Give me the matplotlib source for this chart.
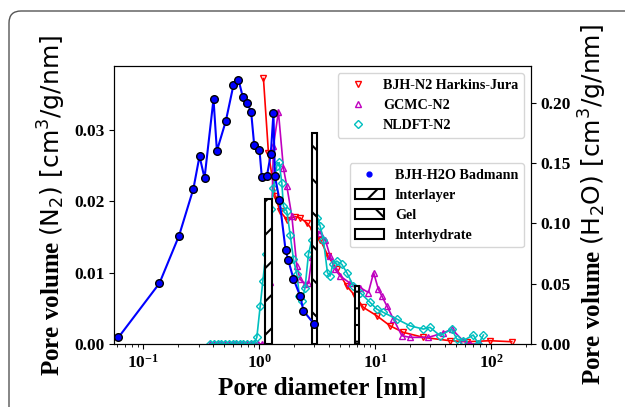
import matplotlib
matplotlib.use("Agg")
import matplotlib.pyplot as plt
from matplotlib.lines import Line2D
from matplotlib.patches import Patch, FancyBboxPatch
from matplotlib.transforms import IdentityTransform

# ---------------- data ----------------
# BJH-H2O Badmann (right axis)
h2o_d = [0.0612, 0.138, 0.204, 0.271, 0.306, 0.338, 0.404, 0.432, 0.516, 0.600,
         0.663, 0.723, 0.788, 0.853, 0.906, 1.006, 1.055, 1.165, 1.261, 1.328,
         1.366, 1.496, 1.691, 1.786, 1.977, 2.256, 2.41, 2.98]
h2o_v = [0.0055, 0.0503, 0.0899, 0.1287, 0.1557, 0.1375, 0.2030, 0.1601, 0.1848, 0.2145,
         0.2192, 0.2046, 0.1999, 0.1922, 0.1650, 0.1609, 0.1380, 0.1389, 0.1576, 0.1917,
         0.1394, 0.1196, 0.0776, 0.0693, 0.0539, 0.0399, 0.0275, 0.0165]

# BJH-N2 Harkins-Jura (left axis)
bjh_d = [1.089, 1.203, 1.374, 1.517, 1.733, 2.042, 2.256, 2.576, 2.94, 3.36,
         3.93, 4.67, 5.70, 6.72, 7.93, 10.35, 13.46, 17.5, 26.1, 44.3,
         61.8, 98.0, 150.8]
bjh_v = [0.0372, 0.02674, 0.02068, 0.01859, 0.01743, 0.01785, 0.01767, 0.01697, 0.0158, 0.01464,
         0.01232, 0.01046, 0.00813, 0.00674, 0.00512, 0.00395, 0.00255, 0.00163, 0.00093, 0.00046,
         0.00032, 0.00046, 0.00032]

# GCMC-N2 (left axis)
gcmc_d = [0.38, 0.41, 0.44, 0.47, 0.51, 0.55, 0.59, 0.63, 0.68, 0.73, 0.79, 0.85, 0.91, 0.98,
          1.05, 1.12, 1.17, 1.244, 1.328, 1.466, 1.619, 1.733, 1.914, 2.113, 2.256, 2.49,
          2.66, 2.85, 3.04, 3.36, 3.71, 4.09, 4.52, 4.99, 6.09, 7.42, 8.75, 9.71, 10.67,
          11.42, 12.62, 14.4, 17.0, 20.0, 28.8, 38.5, 45.8, 57.4, 65.9, 80.4]
gcmc_v = [0, 0, 0, 0, 0, 0, 0, 0, 0, 0, 0, 0, 0, 0,
          0, 0, 0, 0.00865, 0.02775, 0.03254, 0.02464, 0.02211, 0.0179, 0.01092, 0.00907, 0.00837,
          0.0085, 0.01213, 0.01604, 0.01558, 0.01464, 0.01232, 0.01046, 0.00953, 0.00851, 0.00791,
          0.00721, 0.0100, 0.00767, 0.00674, 0.00534, 0.00349, 0.00116, 0.00093, 0.00093, 0.00153,
          0.00209, 0.00046, 0.0, 0.0]

# NLDFT-N2 (left axis)
nldft_d = [0.38, 0.41, 0.44, 0.47, 0.51, 0.55, 0.59, 0.63, 0.68, 0.73, 0.79, 0.85, 0.90,
           0.955, 1.02, 1.076, 1.142, 1.203, 1.269, 1.328, 1.42, 1.487, 1.569, 1.619, 1.733,
           1.85, 1.977, 2.113, 2.225, 2.35, 2.49, 2.66, 2.85, 3.04, 3.18, 3.36, 3.58, 3.88,
           4.09, 4.32, 4.67, 5.16, 5.70, 6.50, 7.42, 9.06, 10.35, 11.8, 15.4, 20.0, 26.1,
           29.8, 36.3, 45.8, 50.6, 57.4, 70.3, 77.8, 85.9]
nldft_v = [0, 0, 0, 0, 0, 0, 0, 0, 0, 0, 0, 0, 0,
           0.00093, 0.00526, 0.00883, 0.01265, 0.01628, 0.01897, 0.02185, 0.02497, 0.02543,
           0.02255, 0.01929, 0.01859, 0.01534, 0.01185, 0.00976, 0.00674, 0.00604, 0.00791,
           0.01255, 0.01464, 0.01743, 0.01767, 0.0165, 0.01464, 0.0100, 0.00953, 0.01116,
           0.01162, 0.01116, 0.0100, 0.00813, 0.00721, 0.00582, 0.00488, 0.00442, 0.00349,
           0.00255, 0.00209, 0.00233, 0.00116, 0.00209, 0.0007, 0.00046, 0.00126, 0.0, 0.00126]

# Pore classes (right axis bars)
bar_labels = ["Interlayer", "Gel", "Interhydrate"]
bar_d = [1.2, 3.0, 7.0]
bar_h = [0.12, 0.175, 0.048]

# ---------------- style ----------------
plt.rcParams['font.family'] = ['Liberation Serif', 'DejaVu Serif']
plt.rcParams['font.weight'] = 'bold'
plt.rcParams['mathtext.fontset'] = 'custom'
plt.rcParams['mathtext.rm'] = 'DejaVu Sans:weight=normal'
plt.rcParams['mathtext.it'] = 'DejaVu Sans:style=italic:weight=normal'
plt.rcParams['mathtext.bf'] = 'DejaVu Sans:weight=bold'
plt.rcParams['hatch.linewidth'] = 1.5

bar_w = [0.16, 0.30, 0.60]
bar_hatch = ['/', '\\', '-']

fig = plt.figure(figsize=(6.25, 4.07), dpi=100)
ax = fig.add_axes([114/625, 1-344/407, (531-114)/625, (344-66)/407])
ax2 = ax.twinx()

ms = 5
ax.plot(bjh_d, bjh_v, '-', color='r', marker='v', mfc='none', mec='r', ms=ms, lw=1.2)
ax.plot(gcmc_d, gcmc_v, '-', color='m', marker='^', mfc='none', mec='m', ms=ms, lw=1.2)
ax.plot(nldft_d, nldft_v, '-', color='c', marker='D', mfc='none', mec='c', ms=ms-0.5, lw=1.2)

for d, h, w, hc in zip(bar_d, bar_h, bar_w, bar_hatch):
    ax2.bar(d, h, width=w, facecolor='white', edgecolor='black', hatch=hc, linewidth=1.5, zorder=1)
ax2.plot(h2o_d, h2o_v, '-', color='b', marker='o', mfc='b', mec='black', ms=5.5, lw=1.5, zorder=3)

ax.set_xscale('log')
ax.set_xlim(0.056, 221)
ax.set_ylim(0, 0.03895)
ax2.set_ylim(0, 0.2304)
ax.set_yticks([0.0, 0.01, 0.02, 0.03])
ax2.set_yticks([0.0, 0.05, 0.10, 0.15, 0.20])
ax.yaxis.set_major_formatter(matplotlib.ticker.FormatStrFormatter('%.2f'))
ax2.yaxis.set_major_formatter(matplotlib.ticker.FormatStrFormatter('%.2f'))
for a in (ax, ax2):
    a.tick_params(labelsize=12.5)

ax.set_xlabel('Pore diameter [nm]', fontsize=18, fontweight='bold')
ax.set_ylabel(r'Pore volume $(\mathrm{N_2})\ [\mathrm{cm^3/g/nm}]$',
              fontsize=18, fontweight='bold')
ax2.set_ylabel(r'Pore volume $(\mathrm{H_2O})\ [\mathrm{cm^3/g/nm}]$',
               fontsize=18, fontweight='bold')

h1 = [Line2D([], [], ls='none', marker='v', mfc='none', mec='r', ms=5),
      Line2D([], [], ls='none', marker='^', mfc='none', mec='m', ms=5),
      Line2D([], [], ls='none', marker='D', mfc='none', mec='c', ms=4.5)]
leg1 = ax2.legend(h1, ['BJH-N2 Harkins-Jura', 'GCMC-N2', 'NLDFT-N2'],
                  loc='upper right', prop={'weight': 'bold', 'size': 10.2})
ax2.add_artist(leg1)
h2 = [Line2D([], [], ls='none', marker='o', mfc='b', mec='b', ms=3.5)]
for hc in bar_hatch:
    h2.append(Patch(facecolor='white', edgecolor='black', hatch=hc, linewidth=1.5))
leg2 = ax2.legend(h2, ['BJH-H2O Badmann'] + bar_labels, loc='upper right',
                  bbox_to_anchor=(1.0, 0.677), prop={'weight': 'bold', 'size': 10.2})

frame = FancyBboxPatch((9, -60), 700, 407 - 11 + 60, boxstyle='round,pad=0,rounding_size=12',
                       transform=IdentityTransform(), facecolor='none', edgecolor='#555555',
                       linewidth=1.0)
fig.patches.append(frame)

fig.savefig('out.png', dpi=100)
